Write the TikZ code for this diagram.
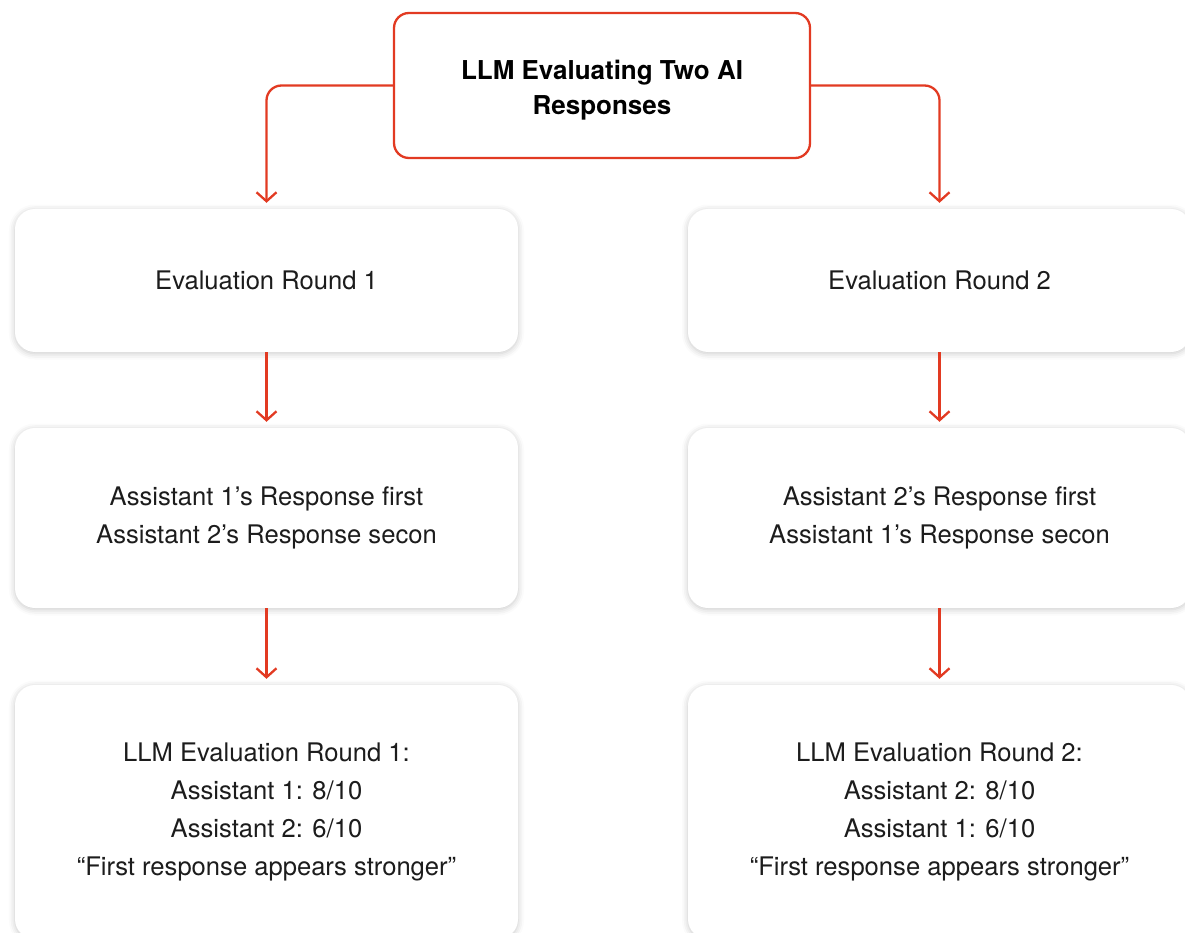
\documentclass[tikz,border=0pt]{standalone}
\usepackage{fontspec}
\setmainfont{TeX Gyre Heros}
\usetikzlibrary{arrows.meta,shadows.blur}
\definecolor{flowred}{RGB}{226,58,34}
\definecolor{inktext}{RGB}{28,28,28}
\begin{document}
\begin{tikzpicture}[x=1pt,y=-1pt,
  card/.style={rounded corners=20pt, fill=white, minimum width=503pt,
    text=inktext, align=center, inner sep=0pt,
    font=\fontsize{25.6}{37.8}\selectfont,
    blur shadow={shadow xshift=0pt, shadow yshift=-1.5pt,
      shadow blur radius=6pt, shadow opacity=22}},
  titlebox/.style={draw=flowred, line width=2.3pt, rounded corners=15pt,
    fill=white, minimum width=416pt, minimum height=145pt, inner sep=0pt,
    text=black, font=\bfseries\fontsize{26}{35}\selectfont},
  flow/.style={draw=flowred, line width=2.3pt, rounded corners=15pt,
    -{Straight Barb[length=9pt,width=20pt]}, shorten >=6pt}
]
\useasboundingbox (0,0) rectangle (1185,933);
\clip (0,0) rectangle (1185,933);

% header (extra space on top lowers the two lines a little)
\node[titlebox] (top) at (602,85.5)
  {\parbox[c]{380pt}{\centering\vspace*{10pt}LLM Evaluating Two AI\\Responses}};

% left column: round 1
\node[card, minimum height=143pt] (l1) at (266.5,280.5) {Evaluation Round 1};
\node[card, minimum height=180pt] (l2) at (266.5,518) {Assistant 1’s Response first\\Assistant 2’s Response secon};
\node[card, minimum height=254pt] (l3) at (266.5,812) {LLM Evaluation Round 1:\\Assistant 1: 8/10\\Assistant 2: 6/10\\“First response appears stronger”};

% right column: round 2
\node[card, minimum height=143pt] (r1) at (939.5,280.5) {Evaluation Round 2};
\node[card, minimum height=180pt] (r2) at (939.5,518) {Assistant 2’s Response first\\Assistant 1’s Response secon};
\node[card, minimum height=254pt] (r3) at (939.5,812) {LLM Evaluation Round 2:\\Assistant 2: 8/10\\Assistant 1: 6/10\\“First response appears stronger”};

% connectors
\draw[flow] (top.west) -| (l1.north);
\draw[flow] (top.east) -| (r1.north);
\draw[flow] (l1.south) -- (l2.north);
\draw[flow] (l2.south) -- (l3.north);
\draw[flow] (r1.south) -- (r2.north);
\draw[flow] (r2.south) -- (r3.north);
\end{tikzpicture}
\end{document}
